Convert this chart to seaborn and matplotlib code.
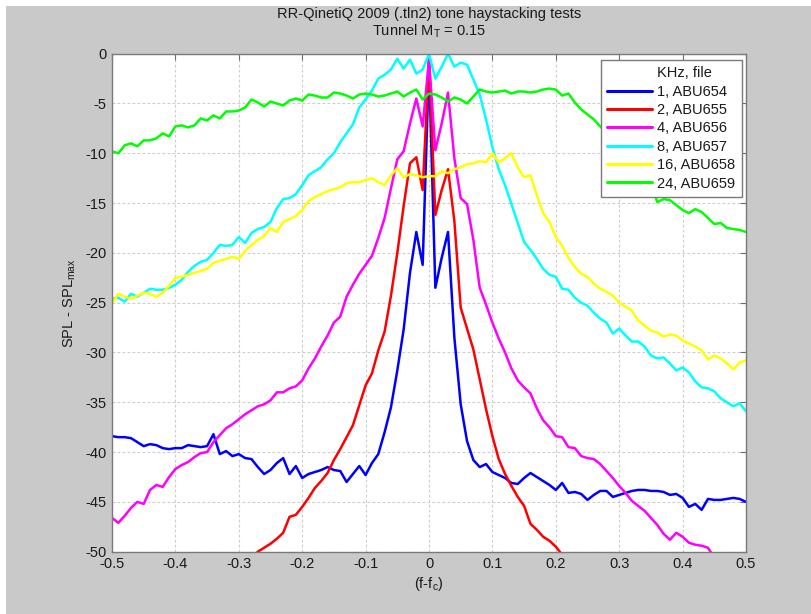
import numpy as np
import pandas as pd
import matplotlib
matplotlib.use("Agg")
import matplotlib.pyplot as plt
from matplotlib.lines import Line2D
from matplotlib.patches import Rectangle
import seaborn as sns

# Frequency offset from the tone centre (f - fc), 0.01 steps
offset = [
    -0.50, -0.49, -0.48, -0.47, -0.46, -0.45, -0.44, -0.43, -0.42, -0.41,
    -0.40, -0.39, -0.38, -0.37, -0.36, -0.35, -0.34, -0.33, -0.32, -0.31,
    -0.30, -0.29, -0.28, -0.27, -0.26, -0.25, -0.24, -0.23, -0.22, -0.21,
    -0.20, -0.19, -0.18, -0.17, -0.16, -0.15, -0.14, -0.13, -0.12, -0.11,
    -0.10, -0.09, -0.08, -0.07, -0.06, -0.05, -0.04, -0.03, -0.02, -0.01,
    0.00, 0.01, 0.02, 0.03, 0.04, 0.05, 0.06, 0.07, 0.08, 0.09,
    0.10, 0.11, 0.12, 0.13, 0.14, 0.15, 0.16, 0.17, 0.18, 0.19,
    0.20, 0.21, 0.22, 0.23, 0.24, 0.25, 0.26, 0.27, 0.28, 0.29,
    0.30, 0.31, 0.32, 0.33, 0.34, 0.35, 0.36, 0.37, 0.38, 0.39,
    0.40, 0.41, 0.42, 0.43, 0.44, 0.45, 0.46, 0.47, 0.48, 0.49, 0.50,
]

# 1 kHz, ABU654
spl_abu654 = [
    -38.4, -38.5, -38.5, -38.6, -39.0, -39.4, -39.2, -39.3, -39.6, -39.7,
    -39.6, -39.6, -39.3, -39.4, -39.5, -39.4, -38.2, -40.2, -39.9, -40.4,
    -40.2, -40.6, -40.7, -41.5, -42.2, -41.8, -41.1, -40.6, -42.2, -41.4,
    -42.6, -42.2, -42.0, -41.8, -41.5, -41.8, -41.9, -43.0, -42.2, -41.4,
    -42.3, -41.1, -40.2, -38.0, -35.5, -31.8, -27.7, -22.0, -17.9, -21.2,
    -1.0, -23.5, -20.5, -17.9, -28.5, -35.2, -38.9, -40.8, -41.5, -41.2,
    -42.0, -42.3, -42.6, -43.1, -43.2, -42.6, -42.1, -42.5, -42.9, -43.3,
    -43.8, -43.1, -44.1, -44.0, -44.2, -44.8, -44.3, -43.9, -43.9, -44.5,
    -44.3, -44.1, -43.9, -43.8, -43.8, -43.9, -43.9, -44.0, -44.3, -44.2,
    -44.6, -45.5, -45.2, -45.8, -44.7, -44.8, -44.8, -44.7, -44.6, -44.7, -45.0,
]

# 2 kHz, ABU655 (only the part above the -50 floor)
offset_abu655 = [
    -0.28, -0.27, -0.26, -0.25, -0.24, -0.23, -0.22, -0.21, -0.20, -0.19,
    -0.18, -0.17, -0.16, -0.15, -0.14, -0.13, -0.12, -0.11, -0.10, -0.09,
    -0.08, -0.07, -0.06, -0.05, -0.04, -0.03, -0.02, -0.01, 0.00, 0.01,
    0.02, 0.03, 0.04, 0.05, 0.06, 0.07, 0.08, 0.09, 0.10, 0.11,
    0.12, 0.13, 0.14, 0.15, 0.16, 0.17, 0.18, 0.19, 0.20, 0.21, 0.22,
]
spl_abu655 = [
    -50.8, -50.0, -49.6, -49.2, -48.7, -48.1, -46.5, -46.3, -45.5, -44.6,
    -43.6, -42.9, -42.1, -40.8, -39.7, -38.5, -37.3, -35.3, -33.3, -32.1,
    -29.8, -27.9, -24.3, -20.0, -15.3, -11.0, -10.4, -13.7, -0.6, -16.2,
    -13.7, -11.6, -16.8, -25.5, -27.6, -29.7, -32.7, -35.7, -38.4, -40.7,
    -42.2, -43.4, -44.5, -45.4, -47.2, -47.8, -48.5, -48.9, -49.5, -50.3, -51.0,
]

# 4 kHz, ABU656 (until it drops below -50)
offset_abu656 = offset[:96]
spl_abu656 = [
    -46.6, -47.1, -46.4, -45.6, -45.0, -45.2, -43.8, -43.3, -43.5, -42.5,
    -41.7, -41.3, -41.0, -40.5, -40.1, -40.0, -39.0, -38.3, -37.6, -37.2,
    -36.7, -36.2, -35.8, -35.4, -35.2, -34.8, -34.0, -34.0, -33.6, -33.4,
    -32.8, -31.6, -30.6, -29.4, -28.3, -27.0, -26.4, -24.4, -23.2, -22.1,
    -21.2, -20.3, -18.5, -16.5, -13.5, -10.6, -9.8, -7.0, -4.5, -7.3,
    -0.6, -9.7, -7.0, -3.9, -10.5, -14.5, -15.1, -18.7, -23.5, -25.2,
    -27.0, -28.6, -30.0, -31.6, -32.8, -33.5, -34.1, -35.6, -36.8, -37.5,
    -38.4, -38.5, -39.5, -39.6, -40.4, -40.6, -40.7, -41.2, -41.9, -42.6,
    -43.4, -44.1, -44.9, -45.4, -45.9, -46.6, -47.3, -48.2, -48.8, -48.1,
    -48.5, -49.1, -49.3, -49.4, -49.6, -50.6,
]

# 8 kHz, ABU657
spl_abu657 = [
    -24.6, -24.5, -24.9, -24.1, -24.4, -24.0, -23.6, -23.7, -23.7, -23.5,
    -23.2, -22.7, -21.9, -21.3, -20.9, -20.7, -20.0, -19.2, -19.3, -19.2,
    -18.4, -19.0, -18.0, -17.6, -17.4, -16.9, -15.5, -14.6, -14.5, -14.1,
    -13.2, -12.2, -11.8, -11.4, -10.6, -10.0, -8.9, -8.0, -7.1, -5.4,
    -4.6, -3.7, -2.5, -2.1, -1.6, -0.5, -1.5, -0.6, -2.0, -1.6,
    0.0, -2.5, -1.3, 0.0, -1.3, -0.9, -1.1, -2.6, -4.1, -6.6,
    -9.4, -11.6, -13.2, -15.1, -17.0, -18.9, -19.7, -20.6, -21.6, -22.2,
    -22.4, -23.6, -23.7, -24.5, -25.0, -25.3, -26.0, -26.6, -27.0, -28.1,
    -27.6, -28.3, -28.9, -28.9, -29.4, -30.3, -30.6, -30.5, -31.1, -31.8,
    -31.5, -32.0, -32.9, -33.5, -33.6, -33.9, -34.6, -35.0, -35.4, -35.1, -35.9,
]

# 16 kHz, ABU658
spl_abu658 = [
    -25.1, -24.1, -24.4, -24.6, -24.3, -24.0, -24.1, -24.4, -24.0, -23.3,
    -22.5, -22.4, -22.2, -22.0, -21.8, -21.6, -21.0, -20.8, -20.6, -20.4,
    -20.6, -19.8, -19.2, -18.7, -18.3, -17.5, -17.9, -16.9, -16.6, -16.3,
    -15.7, -14.8, -14.4, -14.1, -13.8, -13.6, -13.4, -13.0, -12.9, -12.9,
    -12.7, -12.5, -12.9, -13.2, -12.2, -11.5, -12.4, -12.1, -12.2, -12.4,
    -12.3, -12.3, -11.8, -12.0, -11.6, -11.4, -11.1, -11.0, -10.8, -10.9,
    -10.0, -10.9, -10.5, -10.0, -11.4, -12.4, -12.2, -14.2, -16.0, -16.9,
    -18.4, -19.3, -20.5, -21.4, -22.1, -22.4, -23.1, -23.6, -23.9, -24.3,
    -25.0, -25.4, -25.8, -26.8, -27.3, -27.8, -28.0, -28.4, -28.2, -28.3,
    -28.8, -29.1, -29.4, -29.8, -30.7, -30.3, -30.6, -31.1, -31.7, -31.0, -30.8,
]

# 24 kHz, ABU659
spl_abu659 = [
    -9.8, -10.0, -9.2, -9.0, -9.3, -8.7, -8.7, -8.5, -8.0, -8.3,
    -7.3, -7.2, -7.4, -7.2, -6.5, -6.7, -6.2, -6.5, -5.8, -5.8,
    -5.7, -5.4, -4.6, -4.9, -5.3, -4.8, -5.0, -5.2, -4.7, -4.5,
    -4.7, -4.1, -4.2, -4.4, -4.4, -3.9, -4.0, -4.2, -4.5, -4.1,
    -4.0, -4.1, -4.3, -4.2, -4.0, -3.8, -4.3, -3.9, -3.6, -4.6,
    -4.0, -4.1, -4.4, -4.8, -4.4, -4.6, -5.0, -4.3, -3.6, -3.8,
    -3.9, -3.8, -3.7, -4.0, -3.8, -3.8, -3.9, -3.8, -3.6, -3.5,
    -3.6, -4.2, -4.0, -4.9, -5.6, -6.1, -6.6, -7.3, -7.9, -8.5,
    -9.2, -9.9, -10.6, -11.3, -12.1, -13.0, -14.9, -14.6, -14.7, -15.2,
    -15.7, -16.0, -15.6, -15.9, -16.5, -17.1, -17.0, -17.5, -17.6, -17.7, -17.9,
]

series_labels = ["1, ABU654", "2, ABU655", "4, ABU656",
                 "8, ABU657", "16, ABU658", "24, ABU659"]
series_colors = ["#0000ff", "#ff0000", "#ff00ff", "#00ffff", "#ffff00", "#00ff00"]

x_ticks = [-0.5, -0.4, -0.3, -0.2, -0.1, 0, 0.1, 0.2, 0.3, 0.4, 0.5]
x_tick_labels = ["-0.5", "-0.4", "-0.3", "-0.2", "-0.1", "0",
                 "0.1", "0.2", "0.3", "0.4", "0.5"]
y_ticks = [0, -5, -10, -15, -20, -25, -30, -35, -40, -45, -50]
y_tick_labels = ["0", "-5", "-10", "-15", "-20", "-25",
                 "-30", "-35", "-40", "-45", "-50"]

frames = []
for lab, xs, ys in zip(
    series_labels,
    [offset, offset_abu655, offset_abu656, offset, offset, offset],
    [spl_abu654, spl_abu655, spl_abu656, spl_abu657, spl_abu658, spl_abu659],
):
    frames.append(pd.DataFrame({"df": xs, "spl": ys, "file": lab}))
data = pd.concat(frames, ignore_index=True)

sns.set_style("white")
plt.rcParams["font.family"] = ["Liberation Sans", "DejaVu Sans"]
plt.rcParams["mathtext.fontset"] = "custom"
plt.rcParams["mathtext.rm"] = "Liberation Sans"
plt.rcParams["mathtext.it"] = "Liberation Sans:italic"
plt.rcParams["axes.unicode_minus"] = False

FS = 10.5
TXT = "#1a1a1a"

fig = plt.figure(figsize=(8.11, 6.14), dpi=100, facecolor="white")
fig.patches.append(Rectangle((6 / 811, 0), 1, 1 - 6 / 614, transform=fig.transFigure,
                             facecolor="#c9c9c9", edgecolor="none", zorder=-10))
ax = fig.add_axes([112 / 811, 62.3 / 614, 634 / 811, 498 / 614])
ax.set_facecolor("white")

sns.lineplot(data=data, x="df", y="spl", hue="file", hue_order=series_labels,
             palette=dict(zip(series_labels, series_colors)), estimator=None,
             sort=False, linewidth=1.8, ax=ax, legend=False)

ax.set_xlim(-0.5, 0.5)
ax.set_ylim(-50, 0)
ax.set_xticks(x_ticks)
ax.set_xticklabels(x_tick_labels)
ax.set_yticks(y_ticks)
ax.set_yticklabels(y_tick_labels)
ax.tick_params(direction="in", length=4, width=0.8, color="#6e6e6e",
               labelsize=FS, labelcolor=TXT, pad=4,
               top=True, right=True)
ax.grid(True, color="#cccccc", linestyle=(0, (2.5, 2)), linewidth=0.8)
for sp in ax.spines.values():
    sp.set_color("#7a7a7a")
    sp.set_linewidth(1.0)

ax.set_xlabel(r"(f-f$_\mathrm{c}$)", fontsize=FS, color=TXT, labelpad=3)
ax.set_ylabel(r"SPL - SPL$_\mathrm{max}$", fontsize=FS, color=TXT, labelpad=5)
ax.set_title("RR-QinetiQ 2009 (.tln2) tone haystacking tests\n"
             r"Tunnel M$_\mathrm{T}$ = 0.15",
             fontsize=FS, color=TXT, pad=13, linespacing=1.1)

handles = [Line2D([], [], color="none")]
handles += [Line2D([], [], color=c, linewidth=2.2) for c in series_colors]
leg = ax.legend(handles, ["KHz, file"] + series_labels, loc="upper right",
                bbox_to_anchor=(0.993, 0.987), borderaxespad=0, fontsize=FS,
                frameon=True, fancybox=False, shadow=False, framealpha=1,
                edgecolor="#7a7a7a", handlelength=3.1, handletextpad=0.35,
                labelspacing=0.3, borderpad=0.42)
leg.get_frame().set_linewidth(1.0)
for t in leg.get_texts():
    t.set_color(TXT)

fig.savefig("out.png", dpi=100, facecolor=fig.get_facecolor())
